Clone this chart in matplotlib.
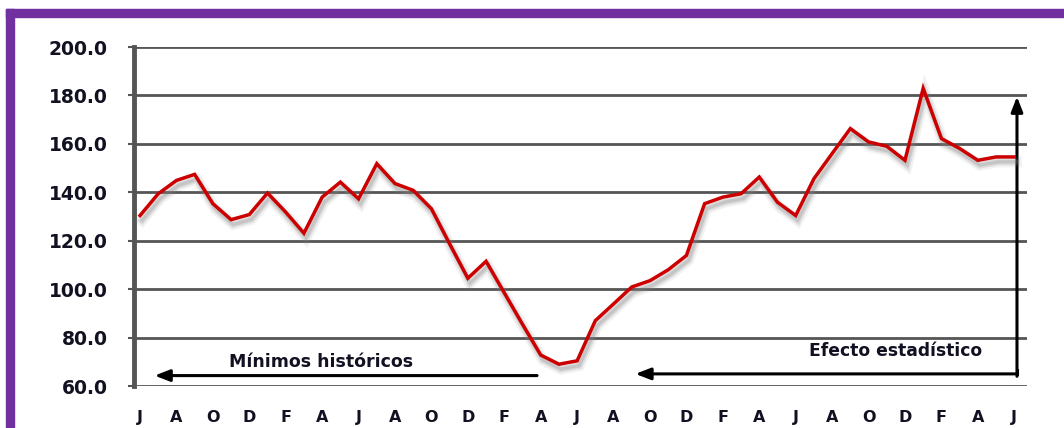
import numpy as np
import matplotlib.pyplot as plt
import matplotlib.patheffects as pe
from matplotlib.patches import Rectangle

# valores mensuales (lectura del gráfico)
valores = [130.4, 139.4, 144.9, 147.4, 135.3, 128.7, 130.8, 139.7, 131.8, 123.1,
           138.0, 144.2, 137.3, 151.8, 143.6, 140.8, 133.2, 118.7, 104.5, 111.5,
           98.5, 85.5, 72.8, 69.0, 70.4, 87.0, 93.9, 100.9, 103.5, 108.0,
           113.9, 135.3, 138.0, 139.4, 146.3, 135.9, 130.4, 145.6, 156.0, 166.3,
           160.8, 159.0, 153.2, 182.9, 162.2, 158.1, 153.2, 154.6, 154.6]
etiquetas = ["J", "A", "O", "D", "F", "A", "J", "A", "O", "D", "F", "A", "J",
             "A", "O", "D", "F", "A", "J", "A", "O", "D", "F", "A", "J"]
yticks = [60, 80, 100, 120, 140, 160, 180, 200]

W, H = 1064, 428
fig = plt.figure(figsize=(W / 100, H / 100), dpi=100)
ax = fig.add_axes([134 / W, 42 / H, (1027 - 134) / W, (386 - 47) / H])

x = np.arange(len(valores))
ax.plot(x, valores, color="#cc0000", lw=2.5, solid_joinstyle="miter", zorder=5,
        path_effects=[pe.SimpleLineShadow(offset=(1.5, -3.5), shadow_color="gray", alpha=0.10, linewidth=8),
                      pe.SimpleLineShadow(offset=(1.5, -3.5), shadow_color="gray", alpha=0.18, linewidth=5),
                      pe.SimpleLineShadow(offset=(1.5, -3.5), shadow_color="gray", alpha=0.25, linewidth=2.5),
                      pe.Normal()])

ax.set_xlim(-0.33, 48.7)
ax.set_ylim(60, 200)
ax.set_yticks(yticks)
ax.set_yticklabels([f"{v:.1f}" for v in yticks])
ax.set_xticks(x[::2])
ax.set_xticklabels(etiquetas)

for v in yticks:
    ax.axhline(v, color="#555555", lw=2.0, zorder=1)

for s in ["top", "right", "bottom"]:
    ax.spines[s].set_visible(False)
ax.spines["left"].set_color("#555555")
ax.spines["left"].set_linewidth(3.5)

ax.tick_params(axis="y", length=4, width=1.5, color="#555555", pad=15)
ax.tick_params(axis="x", length=0, pad=17)
for lab in ax.get_yticklabels():
    lab.set_fontsize(13.5)
    lab.set_fontweight("bold")
    lab.set_color("#111122")
for lab in ax.get_xticklabels():
    lab.set_fontsize(11.5)
    lab.set_fontweight("bold")
    lab.set_color("#111122")

# flechas y textos
flecha = dict(arrowstyle="-|>,head_length=0.9,head_width=0.35", color="black", lw=2.2,
              shrinkA=0, shrinkB=0)
ax.annotate("", xy=(0.8, 64.3), xytext=(21.8, 64.3), arrowprops=flecha)
ax.annotate("", xy=(27.2, 65.0), xytext=(48.15, 65.0), arrowprops=flecha)
ax.plot([48.15, 48.15], [65.0, 66.5], color="black", lw=2.2)
ax.annotate("", xy=(48.15, 179.5), xytext=(48.15, 64.0), arrowprops=flecha)
ax.text(9.95, 69.8, "Mínimos históricos", fontsize=12.5, fontweight="bold",
        ha="center", va="center", color="#111122")
ax.text(41.5, 74.3, "Efecto estadístico", fontsize=12.3, fontweight="bold",
        ha="center", va="center", color="#111122")

# marco morado
fig.patches.append(Rectangle((6 / W, (H - 17) / H), (W - 6) / W, 8 / H,
                             transform=fig.transFigure, color="#7030a0", zorder=10))
fig.patches.append(Rectangle((6 / W, 0), 8 / W, (H - 9) / H,
                             transform=fig.transFigure, color="#7030a0", zorder=10))

fig.savefig("out.png", dpi=100)
